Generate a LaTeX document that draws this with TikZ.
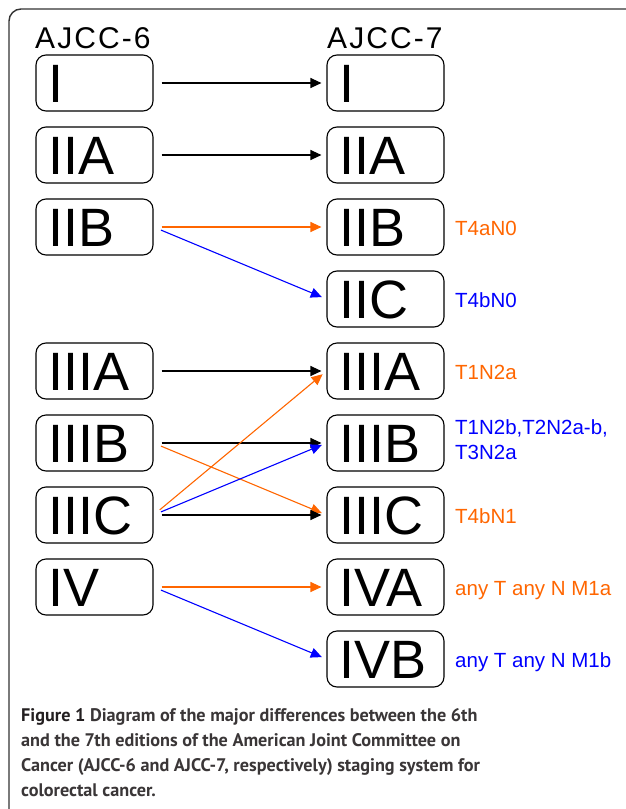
\documentclass[tikz,border=0pt]{standalone}
\usepackage{fontspec}
\setmainfont{Liberation Sans}
\newfontfamily\capfont{PT Sans Bold}
\usetikzlibrary{arrows.meta}
\definecolor{orng}{HTML}{FF6600}
\definecolor{blu}{HTML}{0000FF}
\definecolor{capgray}{HTML}{231F20}
\definecolor{capsoft}{HTML}{3A3637}
\newcommand{\stg}[1]{\makebox[117pt][l]{\hspace{12pt}#1}}
\begin{document}
\begin{tikzpicture}[x=1pt,y=-1pt,
  stage/.style={draw=black, line width=1.1pt, rounded corners=10pt,
    minimum width=117pt, minimum height=56pt, inner sep=0pt,
    font=\fontsize{54}{60}\selectfont, text height=38.7pt, text depth=0pt},
  conn/.style={line width=1.1pt, -{Triangle[length=11pt,width=10pt]},
    shorten <=8pt, shorten >=5pt},
  note/.style={anchor=base west, inner sep=0pt, font=\fontsize{20.5}{25}\selectfont},
  head/.style={anchor=base west, inner sep=0pt,
    font=\fontsize{30}{36}\selectfont\addfontfeature{LetterSpace=7}},
  capline/.style={anchor=base west, inner sep=0pt, text=capsoft,
    font=\capfont\fontsize{18.2}{25}\selectfont}]
\useasboundingbox (0,0) rectangle (625,809);
\fill[white] (0,0) rectangle (625,809);
% frame
\draw[line width=1.4pt, draw=black!80, rounded corners=12pt] (9,830) -- (9,9) -- (640,9);
% headers
\node[head] (h6) at (35,48) {AJCC-6};
\node[head] (h7) at (327,48) {AJCC-7};
% left boxes
\node[stage] (lI)    at (94.5,83)  {\stg{I}};
\node[stage] (lIIA)  at (94.5,155) {\stg{IIA}};
\node[stage] (lIIB)  at (94.5,227) {\stg{IIB}};
\node[stage] (lIIIA) at (94.5,371) {\stg{IIIA}};
\node[stage] (lIIIB) at (94.5,443) {\stg{IIIB}};
\node[stage] (lIIIC) at (94.5,515) {\stg{IIIC}};
\node[stage] (lIV)   at (94.5,587) {\stg{IV}};
% right boxes
\node[stage] (rI)    at (385.5,83)  {\stg{I}};
\node[stage] (rIIA)  at (385.5,155) {\stg{IIA}};
\node[stage] (rIIB)  at (385.5,227) {\stg{IIB}};
\node[stage] (rIIC)  at (385.5,299) {\stg{IIC}};
\node[stage] (rIIIA) at (385.5,371) {\stg{IIIA}};
\node[stage] (rIIIB) at (385.5,443) {\stg{IIIB}};
\node[stage] (rIIIC) at (385.5,515) {\stg{IIIC}};
\node[stage] (rIVA)  at (385.5,587) {\stg{IVA}};
\node[stage] (rIVB)  at (385.5,659) {\stg{IVB}};
% notes
\node[note, text=orng] (n1) at (455,235) {T4aN0};
\node[note, text=blu]  (n2) at (455,307) {T4bN0};
\node[note, text=orng] (n3) at (455,379) {T1N2a};
\node[note, text=blu, align=left, anchor=north west] (n4) at (455,419) {T1N2b,T2N2a-b,\\T3N2a};
\node[note, text=orng] (n5) at (455,523) {T4bN1};
\node[note, text=orng] (n6) at (455,595) {any T any N M1a};
\node[note, text=blu]  (n7) at (455,667) {any T any N M1b};
% connectors
\draw[conn, black] (lI.east) -- (rI.west);
\draw[conn, black] (lIIA.east) -- (rIIA.west);
\draw[conn, orng]  (lIIB.east) -- (rIIB.west);
\draw[conn, blu]   (lIIB.east) -- (rIIC.west);
\draw[conn, black] (lIIIA.east) -- (rIIIA.west);
\draw[conn, black] (lIIIB.east) -- (rIIIB.west);
\draw[conn, orng]  (lIIIB.east) -- (rIIIC.west);
\draw[conn, black] (lIIIC.east) -- (rIIIC.west);
\draw[conn, orng]  (lIIIC.east) -- (rIIIA.west);
\draw[conn, blu]   (lIIIC.east) -- (rIIIB.west);
\draw[conn, orng]  (lIV.east) -- (rIVA.west);
\draw[conn, blu]   (lIV.east) -- (rIVB.west);
% caption
\node[capline] (c1) at (21,721) {{\color{capgray}Figure 1} Diagram of the major differences between the 6th};
\node[capline] (c2) at (21,746) {and the 7th editions of the American Joint Committee on};
\node[capline] (c3) at (21,771) {Cancer (AJCC-6 and AJCC-7, respectively) staging system for};
\node[capline] (c4) at (21,796) {colorectal cancer.};
\end{tikzpicture}
\end{document}
